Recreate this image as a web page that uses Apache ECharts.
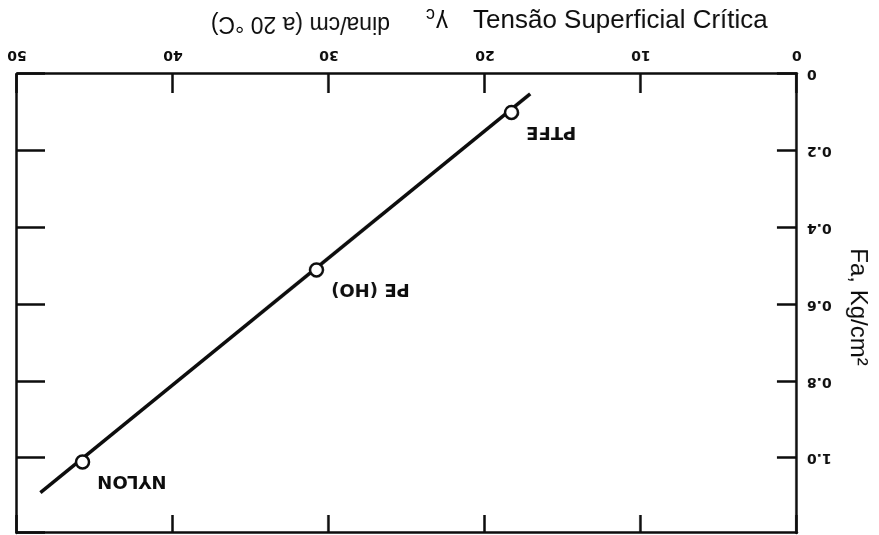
<!DOCTYPE html>
<html>
<head>
<meta charset="utf-8">
<script src="https://cdn.jsdelivr.net/npm/echarts@6/dist/echarts.min.js"></script>
<style>
  html, body { margin: 0; padding: 0; background: #fff; }
  /* the whole figure is printed upside down */
  #chart { width: 879px; height: 535px; transform: rotate(180deg); transform-origin: 50% 50%; }
</style>
</head>
<body>
<div id="chart"></div>
<script>
// Critical surface tension (dina/cm) vs adhesion force Fa (Kg/cm²)
const materials = ['PTFE', 'PE (HO)', 'NYLON'];
const gammaC = [18.3, 30.8, 45.8];
const adhesion = [0.10, 0.51, 1.01];

// drawn regression line, end points
const fitGamma = [17.1, 48.5];
const fitFa = [0.052, 1.09];

const xTicks = [0, 10, 20, 30, 40, 50];
const yTickLabels = ['0', '0.2', '0.4', '0.6', '0.8', '1.0'];

const ink = '#0d0d0d';
const tickFont = { color: ink, fontFamily: 'DejaVu Sans', fontWeight: 'bold', fontSize: 14 };
const frameLine = { show: true, onZero: false, lineStyle: { color: ink, width: 2.5 } };

const chart = echarts.init(document.getElementById('chart'), null, { renderer: 'canvas' });

chart.setOption({
  backgroundColor: '#fff',
  animation: false,
  grid: { left: 82, right: 17, top: 2, bottom: 74, containLabel: false },
  xAxis: [
    {
      type: 'value', position: 'bottom', min: xTicks[0], max: xTicks[xTicks.length - 1], interval: 10,
      splitLine: { show: false },
      axisLine: frameLine,
      axisTick: { show: true, inside: true, length: 19, lineStyle: { color: ink, width: 2.5 } },
      axisLabel: Object.assign({ margin: 12 }, tickFont)
    },
    {
      type: 'value', position: 'top', min: xTicks[0], max: xTicks[xTicks.length - 1], interval: 10,
      splitLine: { show: false },
      axisLine: frameLine,
      axisTick: { show: true, inside: true, length: 18, lineStyle: { color: ink, width: 2.5 } },
      axisLabel: { show: false }
    }
  ],
  yAxis: [
    {
      type: 'value', position: 'left', min: 0, max: 1.195, interval: 0.2,
      splitLine: { show: false },
      axisLine: frameLine,
      axisTick: { show: true, inside: true, length: 20, lineStyle: { color: ink, width: 2.5 } },
      axisLabel: Object.assign({
        margin: 10, showMaxLabel: false,
        formatter: function (v) {
          const i = Math.round(v / 0.2);
          return Math.abs(v - i * 0.2) < 1e-6 && i < yTickLabels.length ? yTickLabels[i] : '';
        }
      }, tickFont)
    },
    {
      type: 'value', position: 'right', min: 0, max: 1.195, interval: 0.2,
      splitLine: { show: false },
      axisLine: frameLine,
      axisTick: { show: true, inside: true, length: 28, lineStyle: { color: ink, width: 2.5 } },
      axisLabel: { show: false }
    }
  ],
  graphic: [
    {
      // the Portuguese caption reads upright on the page
      type: 'text', x: 406, y: 514, rotation: Math.PI,
      style: { text: 'Tensão Superficial Crítica', font: '26px "Liberation Sans"', fill: ink, align: 'left', verticalAlign: 'middle' }
    },
    {
      type: 'text', x: 431, y: 513,
      style: { text: 'γ', font: '24px "Liberation Sans"', fill: ink, align: 'left', verticalAlign: 'middle' }
    },
    {
      type: 'text', x: 444, y: 521,
      style: { text: 'c', font: '18px "Liberation Sans"', fill: ink, align: 'left', verticalAlign: 'middle' }
    },
    {
      type: 'text', x: 489, y: 512,
      style: { text: 'dina/cm (a 20 °C)', font: '23px "Liberation Sans"', fill: ink, align: 'left', verticalAlign: 'middle' }
    },
    {
      type: 'text', x: 21, y: 228, rotation: Math.PI / 2,
      style: { text: 'Fa, Kg/cm²', font: '24px "Liberation Sans"', fill: ink, align: 'center', verticalAlign: 'middle' }
    }
  ],
  series: [
    {
      type: 'line',
      xAxisIndex: 0, yAxisIndex: 0,
      data: fitGamma.map((g, i) => [g, fitFa[i]]),
      showSymbol: false, symbol: 'none',
      lineStyle: { color: ink, width: 3.5 },
      z: 2
    },
    {
      type: 'scatter',
      xAxisIndex: 0, yAxisIndex: 0,
      data: materials.map((m, i) => ({ name: m, value: [gammaC[i], adhesion[i]] })),
      symbol: 'circle', symbolSize: 13,
      itemStyle: { color: '#fff', borderColor: ink, borderWidth: 2.5, opacity: 1 },
      label: {
        show: true, position: 'left', distance: 7, offset: [0, -19],
        formatter: p => p.name,
        color: ink, fontFamily: 'DejaVu Sans', fontWeight: 'bold', fontSize: 18
      },
      z: 3
    }
  ]
});
</script>
</body>
</html>
